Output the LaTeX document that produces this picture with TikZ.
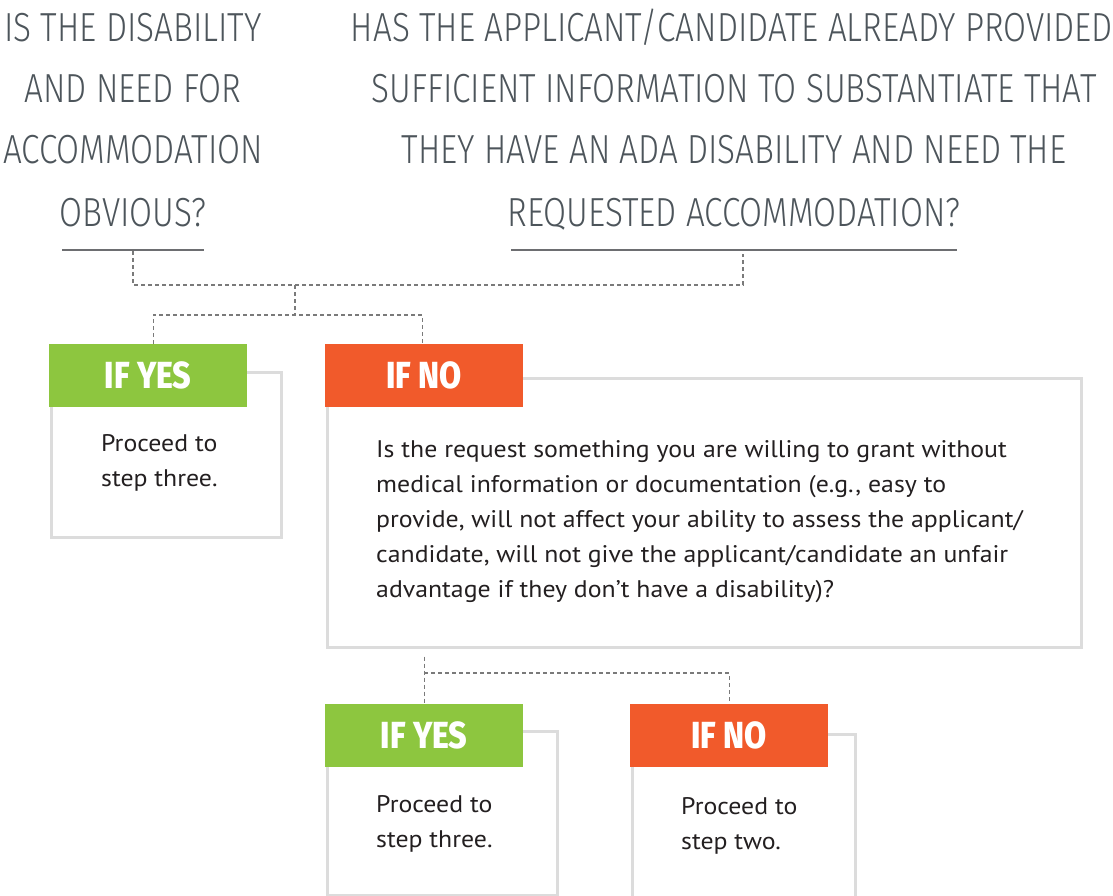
\documentclass[tikz,border=0pt]{standalone}
\usepackage{fontspec}
\setmainfont{PT Sans}[FakeStretch=1.075]
\newfontfamily\headfont[FakeStretch=0.82]{Fira Sans Light}
\newfontfamily\tabfont[FakeStretch=0.85]{Fira Sans ExtraBold}
\definecolor{headgray}{HTML}{4D555B}
\definecolor{rulegray}{HTML}{6D6E71}
\definecolor{dashgray}{HTML}{7A7A7A}
\definecolor{cardgray}{HTML}{DCDCDC}
\definecolor{yesgreen}{HTML}{8DC63F}
\definecolor{noorange}{HTML}{F15A2B}
\definecolor{bodyblack}{HTML}{231F20}
\newcommand{\firstline}{\rule{0pt}{24pt}}
\begin{document}
\begin{tikzpicture}[x=1pt,y=-1pt,
  head/.style={font=\headfont\fontsize{40.6}{48}\selectfont, text=headgray, inner sep=0pt, anchor=base},
  tab/.style={font=\tabfont\fontsize{37.7}{40}\selectfont, text=white, minimum width=198pt, minimum height=63pt, inner sep=0pt, anchor=north west},
  yestab/.style={tab, fill=yesgreen},
  notab/.style={tab, fill=noorange},
  card/.style={draw=cardgray, line width=2.5pt, anchor=north west, inner sep=0pt},
  body/.style={font=\fontsize{24}{35}\selectfont, text=bodyblack, inner sep=0pt, anchor=north west, align=left},
  dashline/.style={draw=dashgray, line width=1.2pt, dash pattern=on 4pt off 3pt},
  rule/.style={draw=rulegray, line width=2pt}]
\useasboundingbox (0,0) rectangle (1113,896);

% left question
\node[head] (qa1) at (133,42)  {IS THE DISABILITY};
\node[head] (qa2) at (133,103) {AND NEED FOR};
\node[head] (qa3) at (133,164) {ACCOMMODATION};
\node[head] (qa4) at (133,226) {OBVIOUS?};
% right question
\node[head] (qb1) at (732,42)  {HAS THE APPLICANT/CANDIDATE ALREADY PROVIDED};
\node[head] (qb2) at (734,103) {SUFFICIENT INFORMATION TO SUBSTANTIATE THAT};
\node[head] (qb3) at (734,164) {THEY HAVE AN ADA DISABILITY AND NEED THE};
\node[head] (qb4) at (734,226) {REQUESTED ACCOMMODATION?};

% underlines
\draw[rule] (62,250) -- (204,250);
\draw[rule] (511,250) -- (957,250);
\coordinate (ra) at (133,251);
\coordinate (rb) at (743,254);
\coordinate (ja) at (295,285);
\coordinate (jb) at (295,315);

% cards (drawn first, tabs overlap them)
\node[card, minimum width=230pt, minimum height=165pt] (yescard) at (50,371) {};
\node[card, minimum width=754pt, minimum height=269pt] (nocard) at (326,377) {};
\node[card, minimum width=230pt, minimum height=164pt] (yescardb) at (326,730) {};
\node[card, minimum width=223pt, minimum height=166pt] (nocardb) at (631,733) {};

% tabs
\node[yestab] (yes) at (49,344) {IF YES};
\node[notab] (no) at (325,344) {IF NO};
\node[yestab] (yesb) at (325,704) {IF YES};
\node[notab] (nob) at (630,704) {IF NO};

% texts (first baseline sits 24pt below the node top)
\node[body] (yestext) at (101,427) {\firstline Proceed to\\step three.};
\node[body] (notext) at (376,433) {\firstline Is the request something you are willing to grant without\\medical information or documentation (e.g., easy to\\provide, will not affect your ability to assess the applicant/\\candidate, will not give the applicant/candidate an unfair\\advantage if they don’t have a disability)?};
\node[body] (yestextb) at (376,788) {\firstline Proceed to\\step three.};
\node[body] (notextb) at (681,790) {\firstline Proceed to\\step two.};

% connectors
\draw[dashline] (ra) |- (ja) -| (rb);
\draw[dashline] (ja) -- (jb);
\draw[dashline] ([xshift=5pt]yes.north) |- (jb) -| ([xshift=-2pt]no.north);
\coordinate (qc) at ([yshift=-8pt]nocard.south -| yesb.north);
\draw[dashline] (qc) -- (yesb.north);
\draw[dashline] (qc |- 0,673) -| (nob.north);
\end{tikzpicture}
\end{document}
